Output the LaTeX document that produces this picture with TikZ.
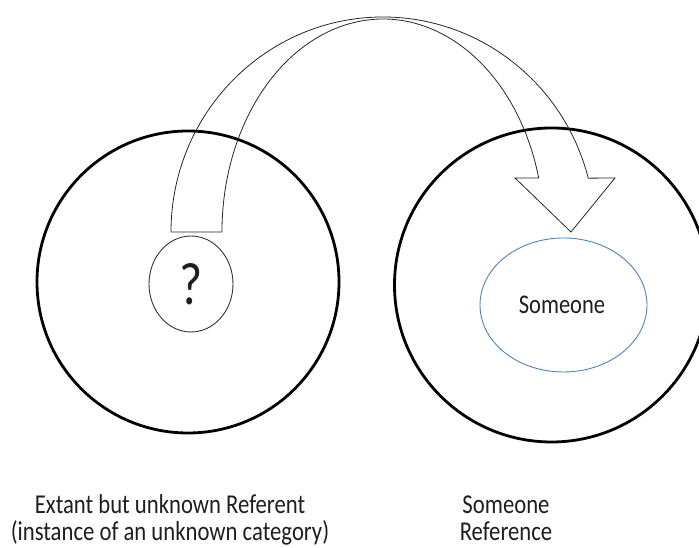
\documentclass[tikz,border=0pt]{standalone}
\usepackage{fontspec}
\usepackage{graphicx}
\setmainfont{Carlito}
\usetikzlibrary{shapes.geometric}
\definecolor{ellblue}{RGB}{79,129,189}
\definecolor{txt}{RGB}{30,30,30}
\newcommand{\vstretch}[1]{\scalebox{1}[1.2]{#1}}
\tikzset{
  bigcirc/.style={circle, draw=black, line width=2.8pt, inner sep=0pt},
  thinell/.style={ellipse, draw, line width=0.9pt, inner sep=0pt},
  blockarrow/.style={draw=black!85, line width=0.8pt, line join=miter},
  lbl/.style={text=txt, inner sep=0pt},
  caption/.style={text=txt, inner sep=0pt, font=\fontsize{22.7}{22}\selectfont}
}
\begin{document}
\begin{tikzpicture}[x=1pt,y=1pt]
\useasboundingbox (0,0) rectangle (699,548);
% big circles
\node[bigcirc, minimum size=302pt] (L) at (188,266) {};
\node[bigcirc, minimum size=314pt] (R) at (551.5,263) {};
% inner ellipses
\node[thinell, draw=black!80, minimum width=84pt, minimum height=96pt] (Q) at (191,264) {};
\node[lbl, font=\fontsize{50}{50}\selectfont] (Qt) at (Q.center) {\vstretch{?}};
\node[thinell, draw=ellblue, minimum width=167pt, minimum height=134pt] (S) at (563.5,243) {};
\node[lbl, font=\fontsize{22.5}{26}\selectfont] (St) at (562,243) {\vstretch{Someone}};
% curved block arrow
\draw[blockarrow] (171,316) arc[start angle=180, end angle=14.5, x radius=212pt, y radius=215pt]
  -- (615,370) -- (571,316) -- (515,370) -- (538.7,370)
  arc[start angle=14.7, end angle=180, x radius=161pt, y radius=213pt] -- cycle;
% captions
\node[caption] (cl) at (170,26.5) {\vstretch{\begin{tabular}{@{}c@{}}Extant but unknown Referent\\(instance of an unknown category)\end{tabular}}};
\node[caption] (cr) at (506,26.5) {\vstretch{\begin{tabular}{@{}c@{}}Someone\\Reference\end{tabular}}};
\end{tikzpicture}
\end{document}
